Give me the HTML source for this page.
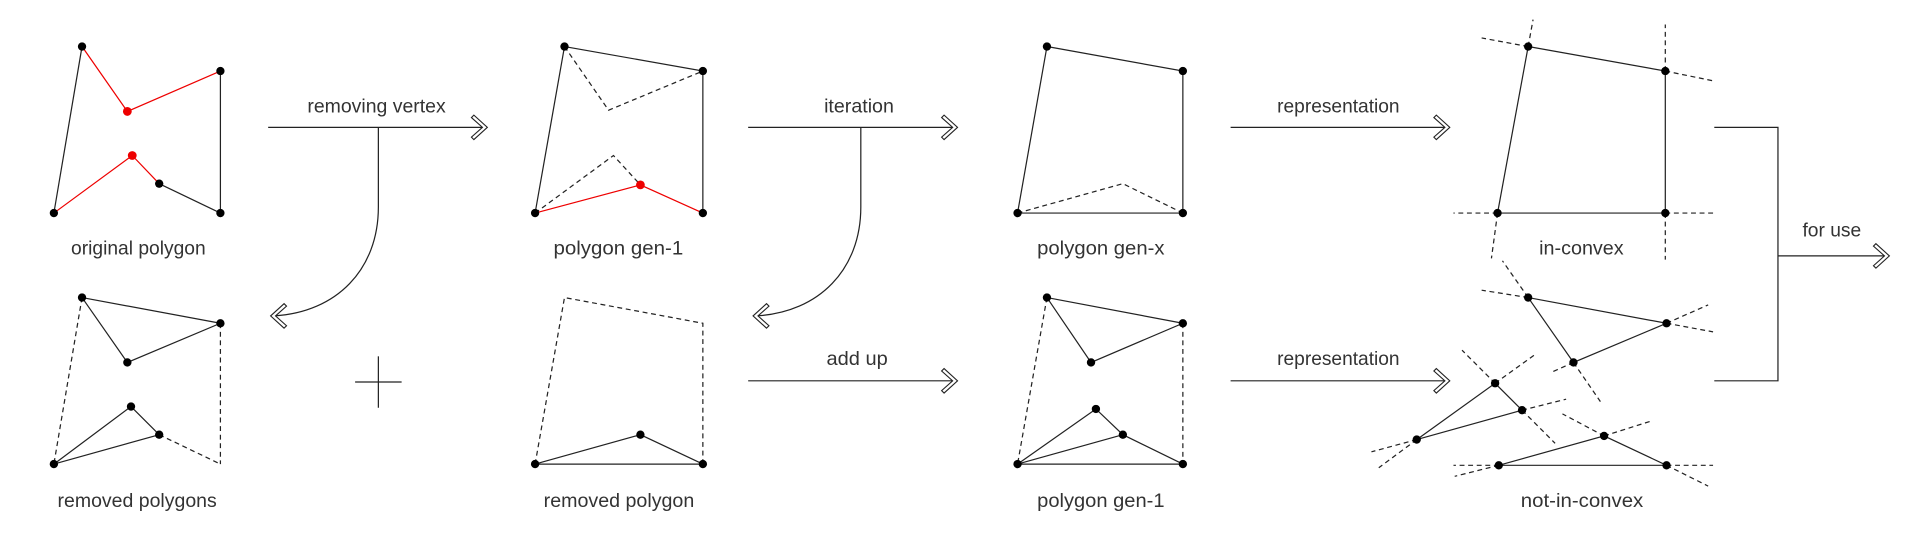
<!DOCTYPE html>
<html><head><meta charset="utf-8"><style>html,body{margin:0;padding:0;background:#fff}svg{display:block}</style></head>
<body>
<svg width="1920" height="540" viewBox="0 0 1568 441" preserveAspectRatio="none" xmlns="http://www.w3.org/2000/svg">
<defs>
<g id="ah"><polygon points="-11,-10 0,0 -11,10 -13,8 -4,0 -13,-8" fill="#fff" stroke="#222" stroke-width="0.9" stroke-linejoin="miter"/></g>
</defs>
<g fill="none" stroke="#222" stroke-width="1">
<line x1="67" y1="38" x2="44" y2="174"/>
<line x1="180" y1="58" x2="180" y2="174"/>
<line x1="180" y1="174" x2="130" y2="150"/>
<g stroke="#e00"><polyline points="67,38 104,91 180,58"/><polyline points="130,150 108,127 44,174"/></g>
<polyline points="437,174 461,38 574,58 574,174"/>
<g stroke="#e00"><polyline points="574,174 523,151 437,174"/></g>
<g stroke-dasharray="4,3"><polyline points="461,38 497,90 574,58"/><polyline points="437,174 501,127 523,151"/></g>
<polygon points="855,38 966,58 966,174 831,174"/>
<polyline stroke-dasharray="4,3" points="831,174 917,150 966,174"/>
<polygon points="1248,38 1360,58 1360,174 1223,174"/>
<g stroke-dasharray="4,3">
<line x1="1248" y1="38" x2="1252" y2="16"/>
<line x1="1223" y1="174" x2="1218" y2="211"/>
<line x1="1248" y1="38" x2="1210" y2="31"/>
<line x1="1360" y1="58" x2="1399" y2="66"/>
<line x1="1360" y1="58" x2="1360" y2="20"/>
<line x1="1223" y1="174" x2="1187" y2="174"/>
<line x1="1360" y1="174" x2="1399" y2="174"/>
<line x1="1360" y1="174" x2="1360" y2="212"/>
</g>
<polyline points="1400,104 1452,104 1452,311 1400,311"/>
<line x1="1452" y1="209" x2="1540" y2="209"/>
<line x1="219" y1="104" x2="395" y2="104"/>
<path d="M309,104 V169 C309,220 275,255 224,258"/>
<line x1="611" y1="104" x2="779" y2="104"/>
<path d="M703,104 V169 C703,220 669,255 618,258"/>
<line x1="1005" y1="104" x2="1181" y2="104"/>
<line x1="611" y1="311" x2="779" y2="311"/>
<line x1="1005" y1="311" x2="1181" y2="311"/>
<line x1="290" y1="312" x2="328" y2="312"/><line x1="309" y1="291" x2="309" y2="333"/>
<polygon points="67,243 180,264 104,296"/>
<polygon points="107,332 130,355 44,379"/>
<g stroke-dasharray="4,3"><line x1="67" y1="243" x2="44" y2="379"/><line x1="180" y1="264" x2="180" y2="379"/><line x1="130" y1="355" x2="180" y2="379"/></g>
<polyline stroke-dasharray="4,3" points="437,379 461,243 574,264 574,379"/>
<polygon points="437,379 523,355 574,379"/>
<polygon points="855,243 966,264 891,296"/>
<polyline points="831,379 895,334 917,355 966,379 831,379"/>
<line x1="831" y1="379" x2="917" y2="355"/>
<g stroke-dasharray="4,3"><line x1="855" y1="243" x2="831" y2="379"/><line x1="966" y1="264" x2="966" y2="379"/></g>
<polygon points="1248,243 1361,264 1285,296"/>
<polygon points="1221,313 1243,335 1157,359"/>
<polygon points="1224,380 1310,356 1361,380"/>
<g stroke-dasharray="4,3">
<line x1="1248" y1="243" x2="1210" y2="237"/>
<line x1="1248" y1="243" x2="1227" y2="213"/>
<line x1="1361" y1="264" x2="1399" y2="271"/>
<line x1="1361" y1="264" x2="1395" y2="249"/>
<line x1="1285" y1="296" x2="1307" y2="328"/>
<line x1="1285" y1="296" x2="1267" y2="304"/>
<line x1="1221" y1="313" x2="1194" y2="286"/>
<line x1="1221" y1="313" x2="1253" y2="290"/>
<line x1="1243" y1="335" x2="1279" y2="326"/>
<line x1="1243" y1="335" x2="1270" y2="362"/>
<line x1="1157" y1="359" x2="1120" y2="369"/>
<line x1="1157" y1="359" x2="1126" y2="382"/>
<line x1="1224" y1="380" x2="1187" y2="380"/>
<line x1="1224" y1="380" x2="1188" y2="389"/>
<line x1="1310" y1="356" x2="1276" y2="338"/>
<line x1="1310" y1="356" x2="1348" y2="344"/>
<line x1="1361" y1="380" x2="1399" y2="380"/>
<line x1="1361" y1="380" x2="1395" y2="397"/>
</g>
</g>
<use href="#ah" transform="translate(398,104)"/>
<use href="#ah" transform="translate(782,104)"/>
<use href="#ah" transform="translate(1184,104)"/>
<use href="#ah" transform="translate(782,311)"/>
<use href="#ah" transform="translate(1184,311)"/>
<use href="#ah" transform="translate(1543,209)"/>
<use href="#ah" transform="translate(221,258) rotate(180)"/>
<use href="#ah" transform="translate(615,258) rotate(180)"/>
<g fill="#000">
<circle cx="67" cy="38" r="3.4"/><circle cx="180" cy="58" r="3.4"/><circle cx="180" cy="174" r="3.4"/><circle cx="130" cy="150" r="3.4"/><circle cx="44" cy="174" r="3.4"/>
<circle cx="461" cy="38" r="3.4"/><circle cx="574" cy="58" r="3.4"/><circle cx="574" cy="174" r="3.4"/><circle cx="437" cy="174" r="3.4"/>
<circle cx="855" cy="38" r="3.4"/><circle cx="966" cy="58" r="3.4"/><circle cx="966" cy="174" r="3.4"/><circle cx="831" cy="174" r="3.4"/>
<circle cx="1248" cy="38" r="3.4"/><circle cx="1360" cy="58" r="3.4"/><circle cx="1360" cy="174" r="3.4"/><circle cx="1223" cy="174" r="3.4"/>
<circle cx="67" cy="243" r="3.4"/><circle cx="180" cy="264" r="3.4"/><circle cx="104" cy="296" r="3.4"/><circle cx="107" cy="332" r="3.4"/><circle cx="130" cy="355" r="3.4"/><circle cx="44" cy="379" r="3.4"/>
<circle cx="437" cy="379" r="3.4"/><circle cx="523" cy="355" r="3.4"/><circle cx="574" cy="379" r="3.4"/>
<circle cx="855" cy="243" r="3.4"/><circle cx="966" cy="264" r="3.4"/><circle cx="891" cy="296" r="3.4"/><circle cx="895" cy="334" r="3.4"/><circle cx="917" cy="355" r="3.4"/><circle cx="831" cy="379" r="3.4"/><circle cx="966" cy="379" r="3.4"/>
<circle cx="1248" cy="243" r="3.4"/><circle cx="1361" cy="264" r="3.4"/><circle cx="1285" cy="296" r="3.4"/>
<circle cx="1221" cy="313" r="3.4"/><circle cx="1243" cy="335" r="3.4"/><circle cx="1157" cy="359" r="3.4"/>
<circle cx="1224" cy="380" r="3.4"/><circle cx="1310" cy="356" r="3.4"/><circle cx="1361" cy="380" r="3.4"/>
</g>
<g fill="#e00"><circle cx="104" cy="91" r="3.6"/><circle cx="108" cy="127" r="3.6"/><circle cx="523" cy="151" r="3.6"/></g>
<g font-family="Liberation Sans, sans-serif" font-size="16" fill="#333">
<text x="58" y="208" textLength="110" lengthAdjust="spacingAndGlyphs">original polygon</text>
<text x="452" y="208" textLength="106" lengthAdjust="spacingAndGlyphs">polygon gen-1</text>
<text x="847" y="208" textLength="104" lengthAdjust="spacingAndGlyphs">polygon gen-x</text>
<text x="1257" y="208" textLength="69" lengthAdjust="spacingAndGlyphs">in-convex</text>
<text x="251" y="92" textLength="113" lengthAdjust="spacingAndGlyphs">removing vertex</text>
<text x="673" y="92" textLength="57" lengthAdjust="spacingAndGlyphs">iteration</text>
<text x="1043" y="92" textLength="100" lengthAdjust="spacingAndGlyphs">representation</text>
<text x="1472" y="193" textLength="48" lengthAdjust="spacingAndGlyphs">for use</text>
<text x="675" y="298" textLength="50" lengthAdjust="spacingAndGlyphs">add up</text>
<text x="1043" y="298" textLength="100" lengthAdjust="spacingAndGlyphs">representation</text>
<text x="47" y="414" textLength="130" lengthAdjust="spacingAndGlyphs">removed polygons</text>
<text x="444" y="414" textLength="123" lengthAdjust="spacingAndGlyphs">removed polygon</text>
<text x="847" y="414" textLength="104" lengthAdjust="spacingAndGlyphs">polygon gen-1</text>
<text x="1242" y="414" textLength="100" lengthAdjust="spacingAndGlyphs">not-in-convex</text>
</g>
</svg>
</body></html>
